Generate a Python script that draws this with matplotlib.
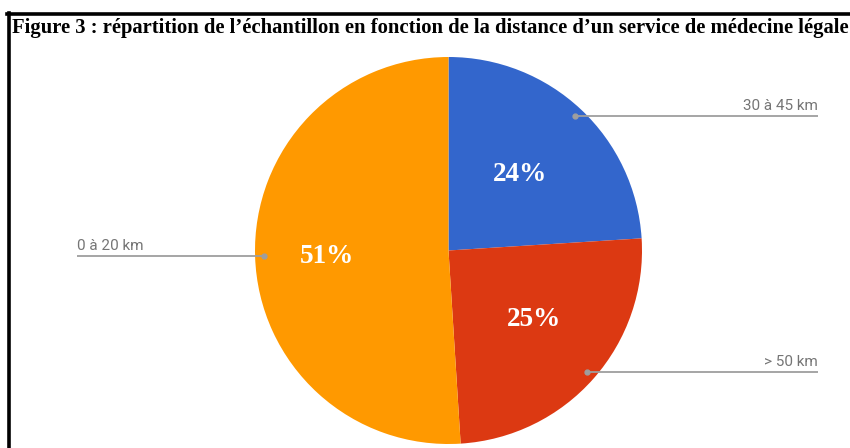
import numpy as np
import matplotlib
matplotlib.use("Agg")
import matplotlib.pyplot as plt
from matplotlib.lines import Line2D

# ---- data ----
categories = ["30 à 45 km", "> 50 km", "0 à 20 km"]
values = [24, 25, 51]
pct_labels = ["24%", "25%", "51%"]
colors = ["#3366CC", "#DC3912", "#FF9900"]
title = "Figure 3 : répartition de l\u2019échantillon en fonction de la distance d\u2019un service de médecine légale"

W, H = 850, 448
fig = plt.figure(figsize=(W / 100, H / 100), dpi=100)
ax = fig.add_axes([0, 0, 1, 1])

cx, cy, R = 448.5, H - 250.5, 193.5
wedges, _ = ax.pie(values, colors=colors, startangle=90, counterclock=False,
                   center=(cx, cy), radius=R, frame=True,
                   wedgeprops=dict(linewidth=0))
ax.set_xlim(0, W)
ax.set_ylim(0, H)
ax.set_aspect("equal")
ax.axis("off")

# percentage labels (radius fraction, angle shift in degrees)
pct_r = [0.54, 0.57, 0.63]
pct_shift = [0.0, 2.5, 0.8]
for w, lab, pr, sh in zip(wedges, pct_labels, pct_r, pct_shift):
    ang = np.deg2rad((w.theta1 + w.theta2) / 2 + sh)
    x = cx + pr * R * np.cos(ang)
    y = cy + pr * R * np.sin(ang)
    ax.text(x, y, lab, ha="center", va="center", color="white",
            fontsize=19.5, fontweight="bold", family="Liberation Serif")

# leader lines and category labels
line_gray = "#9E9E9E"
label_gray = "#757575"
for w, cat in zip(wedges, categories):
    ang = np.deg2rad((w.theta1 + w.theta2) / 2)
    dx = cx + 0.953 * R * np.cos(ang)
    dy = cy + 0.953 * R * np.sin(ang)
    if np.cos(ang) >= 0:
        ex = 818
        ha = "right"
    else:
        ex = 77
        ha = "left"
    ax.plot([dx, ex], [dy, dy], color=line_gray, lw=1.3, solid_capstyle="butt")
    ax.plot([dx], [dy], "o", color=line_gray, ms=3.5)
    ax.text(ex, dy + 3.0, cat, ha=ha, va="bottom", color=label_gray,
            fontsize=11, family="Roboto")

# frame lines (top and left)
fig.add_artist(Line2D([7 / W, 1], [1 - 14.5 / H, 1 - 14.5 / H],
                      transform=fig.transFigure, color="black", lw=2.6))
fig.add_artist(Line2D([8.5 / W, 8.5 / W], [0, 1 - 13 / H],
                      transform=fig.transFigure, color="black", lw=2.6))

fig.text(12 / W, 1 - 33 / H, title, ha="left", va="baseline",
         fontsize=14.9, fontweight="bold", family="Liberation Serif", color="black")

fig.savefig("out.png", dpi=100, facecolor="white")
